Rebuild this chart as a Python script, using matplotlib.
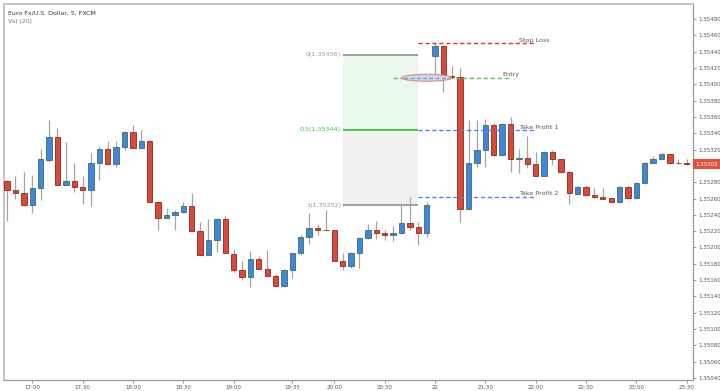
import numpy as np
import matplotlib
matplotlib.use("Agg")
import matplotlib.pyplot as plt
from matplotlib.patches import Ellipse
import matplotlib.transforms as mtransforms

# 5-minute EUR/USD bars, index 0 = 17:00
opens = [1.35281, 1.35271, 1.35267, 1.35252, 1.35273, 1.35307, 1.35335, 1.35277, 1.35281, 1.35274,
         1.35271, 1.35303, 1.35321, 1.35302, 1.35323, 1.35342, 1.35322, 1.35331, 1.35256, 1.35236,
         1.35240, 1.35243, 1.35251, 1.35220, 1.35191, 1.35209, 1.35235, 1.35192, 1.35173, 1.35164,
         1.35186, 1.35174, 1.35165, 1.35153, 1.35173, 1.35193, 1.35213, 1.35224, 1.35222, 1.35221,
         1.35184, 1.35177, 1.35193, 1.35212, 1.35222, 1.35218, 1.35215, 1.35218, 1.35230, 1.35225,
         1.35218, 1.35435, 1.35447, 1.35410, 1.35409, 1.35247, 1.35303, 1.35320, 1.35350, 1.35313,
         1.35351, 1.35308, 1.35310, 1.35302, 1.35288, 1.35317, 1.35308, 1.35293, 1.35266, 1.35274,
         1.35264, 1.35262, 1.35261, 1.35256, 1.35274, 1.35261, 1.35279, 1.35304, 1.35309, 1.35314,
         1.35304, 1.35303]
closes = [1.35271, 1.35267, 1.35252, 1.35273, 1.35308, 1.35335, 1.35277, 1.35281, 1.35274, 1.35271,
          1.35303, 1.35321, 1.35302, 1.35323, 1.35342, 1.35322, 1.35331, 1.35256, 1.35236, 1.35240,
          1.35243, 1.35251, 1.35220, 1.35191, 1.35209, 1.35235, 1.35193, 1.35173, 1.35164, 1.35186,
          1.35174, 1.35165, 1.35153, 1.35173, 1.35193, 1.35213, 1.35224, 1.35222, 1.35221, 1.35184,
          1.35177, 1.35193, 1.35212, 1.35222, 1.35218, 1.35215, 1.35218, 1.35230, 1.35225, 1.35218,
          1.35252, 1.35447, 1.35410, 1.35409, 1.35247, 1.35303, 1.35320, 1.35350, 1.35313, 1.35351,
          1.35308, 1.35310, 1.35302, 1.35288, 1.35317, 1.35308, 1.35293, 1.35267, 1.35274, 1.35264,
          1.35262, 1.35260, 1.35256, 1.35274, 1.35261, 1.35279, 1.35304, 1.35309, 1.35314, 1.35304,
          1.35303, 1.35302]
highs = [1.35283, 1.35288, 1.35293, 1.35289, 1.35321, 1.35356, 1.35347, 1.35329, 1.35303, 1.35288,
         1.35316, 1.35324, 1.35331, 1.35331, 1.35343, 1.35350, 1.35344, 1.35332, 1.35257, 1.35249,
         1.35246, 1.35256, 1.35267, 1.35231, 1.35235, 1.35236, 1.35238, 1.35198, 1.35184, 1.35196,
         1.35189, 1.35197, 1.35168, 1.35174, 1.35193, 1.35215, 1.35242, 1.35229, 1.35246, 1.35222,
         1.35193, 1.35194, 1.35213, 1.35229, 1.35233, 1.35222, 1.35226, 1.35255, 1.35262, 1.35231,
         1.35256, 1.35450, 1.35448, 1.35422, 1.35420, 1.35356, 1.35356, 1.35357, 1.35353, 1.35352,
         1.35360, 1.35321, 1.35337, 1.35317, 1.35318, 1.35320, 1.35309, 1.35294, 1.35275, 1.35275,
         1.35273, 1.35273, 1.35262, 1.35275, 1.35275, 1.35280, 1.35305, 1.35312, 1.35316, 1.35315,
         1.35309, 1.35308]
lows = [1.35232, 1.35260, 1.35251, 1.35242, 1.35258, 1.35305, 1.35276, 1.35276, 1.35268, 1.35253,
        1.35251, 1.35283, 1.35301, 1.35299, 1.35320, 1.35322, 1.35322, 1.35256, 1.35222, 1.35236,
        1.35221, 1.35242, 1.35220, 1.35191, 1.35191, 1.35195, 1.35193, 1.35170, 1.35160, 1.35151,
        1.35174, 1.35165, 1.35152, 1.35152, 1.35162, 1.35191, 1.35204, 1.35215, 1.35220, 1.35183,
        1.35172, 1.35175, 1.35175, 1.35211, 1.35210, 1.35209, 1.35208, 1.35217, 1.35222, 1.35203,
        1.35213, 1.35412, 1.35390, 1.35408, 1.35231, 1.35246, 1.35299, 1.35299, 1.35312, 1.35312,
        1.35292, 1.35291, 1.35298, 1.35287, 1.35287, 1.35301, 1.35291, 1.35253, 1.35265, 1.35263,
        1.35261, 1.35260, 1.35255, 1.35255, 1.35260, 1.35260, 1.35278, 1.35303, 1.35308, 1.35303,
        1.35302, 1.35301]
bar_idx = np.arange(-3, 79)

tick_pos = [0, 6, 12, 18, 24, 31, 36, 42, 48, 54, 60, 66, 72, 78]
tick_labels = ["17:00", "17:30", "18:00", "18:30", "19:00", "19:35", "20:00", "20:30",
               "22", "21:30", "22:00", "22:30", "23:00", "23:30"]

# fibonacci retracement levels and trade levels
fib_levels = [1.35436, 1.35344, 1.35252]
fib_names = ["0", "0.5", "1"]
stop_loss = 1.35450
entry = 1.35408
take_profit1 = 1.35344
take_profit2 = 1.35262
last_price = 1.35302

opens = np.array(opens)
closes = np.array(closes)
highs = np.array(highs)
lows = np.array(lows)

fig = plt.figure(figsize=(7.2, 3.91), dpi=100)
ax = fig.add_axes([4 / 720, 11 / 391, 689 / 720, 376 / 391])

# fib box
fx0, fx1 = 37, 46
ax.fill_between([fx0, fx1], fib_levels[1], fib_levels[0], color="#e9f8e9", zorder=0, lw=0)
ax.fill_between([fx0, fx1], fib_levels[2], fib_levels[1], color="#f1f1f1", zorder=0, lw=0)
fib_colors = ["#999999", "#33cc33", "#999999"]
for lvl, name, c in zip(fib_levels, fib_names, fib_colors):
    ax.hlines(lvl, fx0, fx1, color=c, lw=1.3, zorder=1)
    ax.text(fx0 - 0.2, lvl, f"{name}({lvl:.5f})", color=c, fontsize=4.6,
            ha="right", va="center", zorder=5)

# candles
up = closes >= opens
ax.vlines(bar_idx, lows, highs, color="#a5a5a5", lw=0.9, zorder=2)
body_lo = np.minimum(opens, closes)
body_h = np.abs(closes - opens)
ax.bar(bar_idx[up], body_h[up], bottom=body_lo[up], width=0.64,
       color="#3f86e0", edgecolor="#3f6f58", lw=0.6, zorder=3)
ax.bar(bar_idx[~up], body_h[~up], bottom=body_lo[~up], width=0.64,
       color="#d9493a", edgecolor="#8e2a1e", lw=0.6, zorder=3)

# trade levels
ax.hlines(stop_loss, 46, 60, color="#e03030", lw=1, ls=(0, (3, 2)), zorder=4)
ax.hlines(entry, 43, 57, color="#66bb66", lw=1, ls=(0, (3, 2)), zorder=4)
ax.hlines(take_profit1, 46, 60, color="#4a86e8", lw=1, ls=(0, (3, 2)), zorder=4)
ax.hlines(take_profit2, 46, 60, color="#4a86e8", lw=1, ls=(0, (3, 2)), zorder=4)
ax.add_patch(Ellipse((47, entry), 5.9, 0.000085, facecolor="#c7dbf0",
                     edgecolor="#e08a8a", lw=0.8, zorder=5))
ax.hlines(entry, 44.3, 49.7, color="#8899aa", lw=0.9, ls=(0, (3, 2)), zorder=6)

lab_kw = dict(fontsize=4.6, color="#555555", ha="left", va="bottom", zorder=6)
ax.text(58, stop_loss + 0.000005, "Stop Loss", **lab_kw)
ax.text(56, entry + 0.000005, "Entry", **lab_kw)
ax.text(58, take_profit1 + 0.000005, "Take Profit 1", **lab_kw)
ax.text(58, take_profit2 + 0.000005, "Take Profit 2", **lab_kw)

# axes styling
ax.set_xlim(-3.37, 78.75)
ax.set_ylim(1.350376, 1.354984)
ax.yaxis.tick_right()
ax.set_yticks(np.arange(1.35040, 1.354801, 0.0002))


def price_fmt(v, p):
    # the current price tag covers this label
    if abs(v - 1.35300) < 1e-7:
        return ""
    return f"{v:.5f}"


ax.yaxis.set_major_formatter(plt.FuncFormatter(price_fmt))
ax.set_xticks(tick_pos)
ax.set_xticklabels(tick_labels)
ax.tick_params(axis="both", labelsize=4.0, colors="#888888", labelcolor="#555555",
               length=2, width=0.6, pad=1.5)
for s in ["left", "top"]:
    ax.spines[s].set_color("#c0c0c0")
    ax.spines[s].set_linewidth(1.3)
for s in ["right", "bottom"]:
    ax.spines[s].set_color("#999999")
    ax.spines[s].set_linewidth(0.9)

# current price tag
trans = mtransforms.blended_transform_factory(ax.transAxes, ax.transData)
ax.text(1.004, last_price, f"{last_price:.5f}", transform=trans, fontsize=4.0,
        color="white", ha="left", va="center", clip_on=False,
        bbox=dict(boxstyle="square,pad=0.45", fc="#e0503c", ec="none"))

fig.text(8 / 720, 1 - 13 / 391, "Euro Fx/U.S. Dollar, 5, FXCM", fontsize=4.5,
         color="#333333", va="center")
fig.text(8 / 720, 1 - 22 / 391, "Vol (20)", fontsize=4.5, color="#777777", va="center")

fig.savefig("out.png", dpi=100)
